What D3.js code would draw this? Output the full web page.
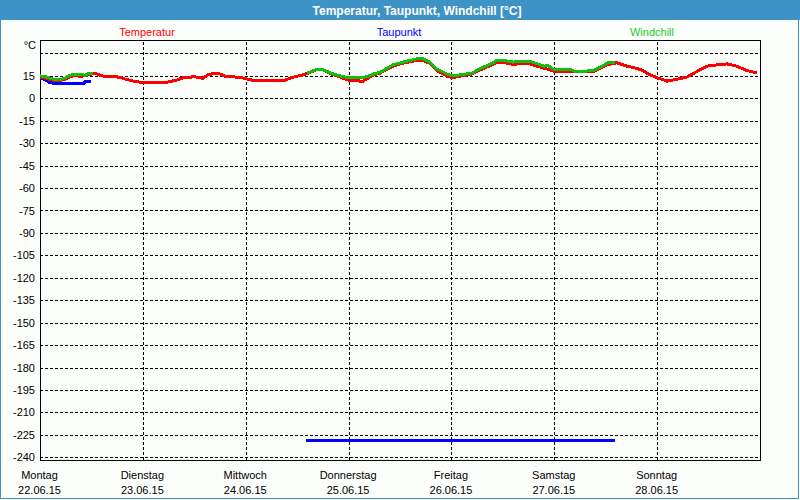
<!DOCTYPE html>
<html>
<head>
<meta charset="utf-8">
<script src="https://cdn.jsdelivr.net/npm/d3@7"></script>
<style>
    body { margin: 0; background: #fcfefc; }
    svg { display: block; }
    text { font-family: "Liberation Sans", Arial, sans-serif; }
</style>
</head>
<body>
<div id="chart"></div>
<script>

// Data (hours after Mon 22.06.15 00:00)
var tempHours = [0, 1.2, 2.3, 3.5, 4.7, 5.8, 7, 8.2, 9.3, 10.5, 11.7, 12.8, 14, 15.2, 17.5, 18.7, 19.8, 21, 22.2, 23.3,
    29.6, 30.8, 32, 33.1, 34.3, 36.2, 37.3, 38, 39, 40.1, 42, 43.2, 44.3, 46.7, 47.8, 49, 50.2, 56, 57.2, 58.3,
    59.5, 61.4, 62.3, 64.6, 65.8, 67, 68.1, 70, 72.3, 75.4, 76.3, 77.7, 79.3, 82.4, 84.7, 88, 89.4, 91, 92.6, 95,
    96.4, 98, 100.8, 102.7, 105, 106.6, 108, 110.4, 112.7, 114.3, 116, 118.3, 120.2, 129, 130.7, 132.3, 134.6, 137,
    139.3, 140.7, 142.3, 144, 146.3, 148.6, 151, 153.3, 155.6, 158.7, 160.3, 162.6, 165, 167.3];
var tempValues = [14, 13.5, 12.5, 11.8, 11.8, 12.8, 14.5, 15.2, 14.8, 15, 16, 16.8, 15.5, 14.5, 14.5, 14, 13, 12, 11.3, 10.8,
    10.8, 11.5, 12.3, 13.5, 14.2, 14.3, 14, 13.2, 15.5, 16.3, 16.3, 14.8, 14.5, 14, 13.3, 12.5, 11.7, 11.7, 12.2, 13.4,
    14.5, 15.7, 16.6, 19.2, 19.2, 17.8, 16.2, 14.2, 11.8, 11.5, 13, 15.5, 16.8, 21.5, 23.5, 25.4, 25.4, 23.3, 18.5, 14.8,
    13.8, 14.8, 16.2, 19, 21.8, 24.2, 24.2, 22.6, 23.5, 23, 21.5, 19.6, 17.8, 17.8, 20, 22.4, 23.8, 21.5,
    20, 18.5, 15.7, 13.8, 11.5, 12.7, 14.3, 18, 21.5, 22.6, 23, 21.5, 18.5, 17];

// null = gap in the record
var dewHours = [0, 1.2, 2.3, 3.5, 10.3, 10.5, 11.9, 12, 62.1, 134.2];
var dewValues = [13.5, 12.5, 10.5, 10, 10, 11, 11, null, -229, -229];

var windHours = [0, 1.2, 2.3, 3.5, 4.7, 5.8, 7, 8.2, 9.3, 10.5, 11.2, 12.4, 12.5,
    62.3, 64.6, 65.8, 67, 68.1, 70, 72.3, 74.7, 76.3, 77.7, 79.3, 82.4, 84.7, 88, 89.4, 91, 92.6, 95, 96.4, 98,
    100.8, 102.7, 105, 106.6, 108, 110.4, 112.7, 114.3, 116.4, 117.6, 118.5, 119.7, 123.7, 124.9, 129, 130.7, 132.5, 134.2];
var windValues = [15, 14.5, 13.5, 12.5, 12.5, 13.5, 15.5, 16, 16, 15.5, 16.5, 16.8, null,
    16.8, 19.4, 19.4, 18, 16.6, 15, 13.6, 13.6, 14.5, 16.2, 17.3, 22.4, 24.2, 26.5, 26.5, 24.2, 19.6, 16.2, 15, 15.7,
    16.8, 20, 22.6, 25.4, 25.4, 24.2, 24.9, 24.7, 22.8, 21.5, 22, 19.6, 19.6, 17.8, 18.5, 20.8, 23.8, 24.2];

var dayNames = ["Montag", "Dienstag", "Mittwoch", "Donnerstag", "Freitag", "Samstag", "Sonntag"];
var dayDates = ["22.06.15", "23.06.15", "24.06.15", "25.06.15", "26.06.15", "27.06.15", "28.06.15"];
var yTicks = [30, 15, 0, -15, -30, -45, -60, -75, -90, -105, -120, -135, -150, -165, -180, -195, -210, -225, -240];

var chartTitle = "Temperatur, Taupunkt, Windchill [°C]";
var seriesNames = ["Temperatur", "Taupunkt", "Windchill"];


var settings = {
    width : 800,
    height : 500,
    titleHeight : 20,//px
    titleColor : "#3d93c5",
    plotLeft : 40,
    plotTop : 40,
    plotRight : 760,
    plotBottom : 460,
    yMin : -242.5,
    yMax : 39,
    colors : { temp : "#ff0000", dew : "#0000ff", wind : "#10c010", windText : "#22cc22" },
};

var startDate = new Date(2015, 5, 22);
function hoursToDate(h){
    return new Date(startDate.getTime() + h * 3600 * 1000);
}

var svg = d3.select("#chart").append("svg")
    .attr("width", settings.width)
    .attr("height", settings.height);

// background + frame
svg.append("rect")
    .attr("x", 0).attr("y", 0)
    .attr("width", settings.width).attr("height", settings.height)
    .attr("fill", "#fcfefc");

svg.append("rect")
    .attr("x", 0).attr("y", 0)
    .attr("width", settings.width).attr("height", settings.titleHeight)
    .attr("fill", settings.titleColor);

svg.append("rect")
    .attr("x", 0.5).attr("y", 0.5)
    .attr("width", 798).attr("height", 498)
    .attr("fill", "none")
    .attr("stroke", settings.titleColor);

svg.append("text")
    .attr("x", 417).attr("y", 15)
    .attr("text-anchor", "middle")
    .attr("fill", "#ffffff")
    .attr("font-size", "12px")
    .attr("font-weight", "bold")
    .text(chartTitle);

// legend
var legendX = [147, 399, 652];
var legendColors = [settings.colors.temp, settings.colors.dew, settings.colors.windText];
seriesNames.forEach(function(name, i){
    svg.append("text")
        .attr("x", legendX[i]).attr("y", 36)
        .attr("text-anchor", "middle")
        .attr("fill", legendColors[i])
        .attr("font-size", "11px")
        .text(name);
});

// scales
var x = d3.scaleTime()
    .domain([startDate, hoursToDate(168)])
    .range([settings.plotLeft, settings.plotRight]);

var y = d3.scaleLinear()
    .domain([settings.yMin, settings.yMax])
    .range([settings.plotBottom + 1, settings.plotTop]);

var plotW = settings.plotRight - settings.plotLeft;
var plotH = settings.plotBottom - settings.plotTop;

// y axis with dashed grid
var yAxis = svg.append("g")
    .attr("transform", "translate(" + settings.plotLeft + ",0)")
    .call(d3.axisLeft(y)
        .tickValues(yTicks)
        .tickSize(-plotW)
        .tickPadding(5)
        .tickFormat(function(d){ return d === 30 ? "" : d; }));
yAxis.select(".domain").remove();
yAxis.selectAll(".tick line")
    .attr("stroke", "#000")
    .attr("stroke-dasharray", "3,2")
    .attr("shape-rendering", "crispEdges");
yAxis.selectAll(".tick text")
    .attr("font-family", "Liberation Sans, Arial, sans-serif")
    .attr("font-size", "11px")
    .attr("fill", "#000");

svg.append("text")
    .attr("x", 36).attr("y", 49)
    .attr("text-anchor", "end")
    .attr("font-size", "11px")
    .text("°C");

// x axis with dashed day grid and two-line labels
var dayTicks = d3.range(7).map(function(i){ return hoursToDate(i * 24); });
var xAxis = svg.append("g")
    .attr("transform", "translate(0," + settings.plotBottom + ")")
    .call(d3.axisBottom(x)
        .tickValues(dayTicks)
        .tickSize(-plotH)
        .tickFormat(""));
xAxis.select(".domain").remove();
xAxis.selectAll(".tick line")
    .attr("stroke", "#000")
    .attr("stroke-dasharray", "3,2")
    .attr("shape-rendering", "crispEdges");

xAxis.selectAll(".tick").each(function(d, i){
    var t = d3.select(this).select("text")
        .attr("y", 0)
        .attr("dy", 0)
        .attr("fill", "#000")
        .attr("font-family", "Liberation Sans, Arial, sans-serif")
        .attr("font-size", "11px");
    t.append("tspan").attr("x", -1).attr("y", 19).text(dayNames[i]);
    t.append("tspan").attr("x", -1).attr("y", 34).text(dayDates[i]);
});

// plot frame
svg.append("rect")
    .attr("x", settings.plotLeft + 0.5).attr("y", settings.plotTop + 0.5)
    .attr("width", plotW).attr("height", plotH)
    .attr("fill", "none")
    .attr("stroke", "#000")
    .attr("stroke-width", 1);

// series lines
function makeSeries(hours, values){
    return hours.map(function(h, i){ return { t : hoursToDate(h), v : values[i] }; });
}

var line = d3.line()
    .defined(function(d){ return d.v !== null; })
    .x(function(d){ return x(d.t); })
    .y(function(d){ return y(d.v); });

var seriesList = [
    { data : makeSeries(dewHours, dewValues), color : settings.colors.dew },
    { data : makeSeries(tempHours, tempValues), color : settings.colors.temp },
    { data : makeSeries(windHours, windValues), color : settings.colors.wind }
];

seriesList.forEach(function(s){
    svg.append("path")
        .datum(s.data)
        .attr("d", line)
        .attr("fill", "none")
        .attr("stroke", s.color)
        .attr("stroke-width", 3)
        .attr("stroke-linejoin", "round")
        .attr("shape-rendering", "crispEdges");
});

</script>
</body>
</html>
